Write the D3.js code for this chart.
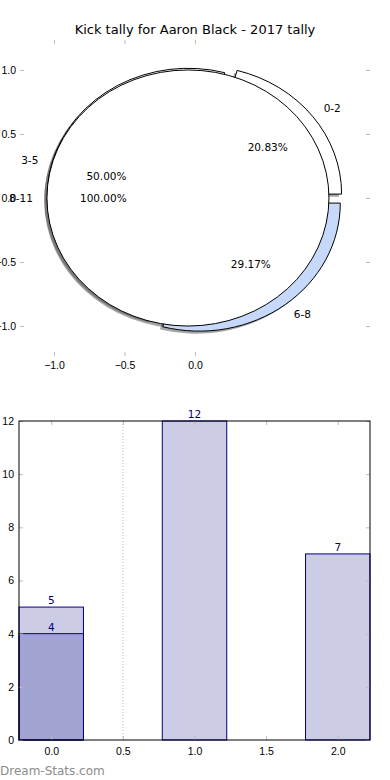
<!DOCTYPE html>
<html>
<head>
<meta charset="utf-8">
<script src="https://cdn.jsdelivr.net/npm/d3@7"></script>
<style>
  body { margin: 0; background: #fff; }
  svg { display: block; font-family: "DejaVu Sans", sans-serif; }
  .tick line { stroke: #bbb; }
  .tick text { fill: #000; font-size: 10.5px; }
  .domain { display: none; }
</style>
</head>
<body>
<svg id="chart" width="390" height="780"></svg>
<script>
// pie data
const pieLabels = ["0-2", "3-5", "6-8"];
const pieValues = [5, 12, 7];
const pieColors = ["#ffffff", "#ffffff", "#c6d9fb"];
const pie2Labels = ["8-11"];
const pie2Values = [4];
const pie2Colors = ["#ffffff"];
const pieXTicks = [-1.0, -0.5, 0.0];
const pieYTicks = [1.0, 0.5, 0.0, -0.5, -1.0];

// bar data
const barPositions = [0, 1, 2];
const barValues = [5, 12, 7];
const overPositions = [0];
const overValues = [4];
const barXTicks = [0.0, 0.5, 1.0, 1.5, 2.0];
const barYTicks = [0, 2, 4, 6, 8, 10, 12];

const EXPLODE = 0.05;
const svg = d3.select("#chart");
const fmt1 = d => d3.format(".1f")(d).replace("-", "\u2212");

// Title
svg.append("text")
    .attr("x", 195).attr("y", 34)
    .attr("text-anchor", "middle")
    .attr("font-size", "13px")
    .text("Kick tally for Aaron Black - 2017 tally");

// ---------- pie axes ----------
const pie = { left: 20, right: 370, top: 40, bottom: 356 };
const px = d3.scaleLinear().domain([-1.241, 1.241]).range([pie.left, pie.right]);
const py = d3.scaleLinear().domain([-1.234, 1.234]).range([pie.bottom, pie.top]);

const pieG = svg.append("g");
pieG.append("g").attr("transform", `translate(0,${pie.bottom})`)
    .call(d3.axisBottom(px).tickValues(pieXTicks).tickSize(-4).tickPadding(6).tickFormat(fmt1));
pieG.append("g").attr("transform", `translate(0,${pie.top})`)
    .call(d3.axisTop(px).tickValues(pieXTicks).tickSize(-4).tickFormat(""));
pieG.append("g").attr("transform", `translate(${pie.left},0)`)
    .call(d3.axisLeft(py).tickValues(pieYTicks).tickSize(-4).tickPadding(4).tickFormat(fmt1));
pieG.append("g").attr("transform", `translate(${pie.right},0)`)
    .call(d3.axisRight(py).tickValues(pieYTicks).tickSize(-4).tickFormat(""));

// unit circle drawn in data coords, stretched to the axes aspect
const kx = px(1) - px(0), ky = py(0) - py(1);
const unitG = pieG.append("g")
    .attr("transform", `translate(${px(0)},${py(0)}) scale(${kx},${ky})`);

// matplotlib style: counter-clockwise from 3 o'clock
const pieGen = d3.pie().sort(null).startAngle(Math.PI / 2).endAngle(Math.PI / 2 - 2 * Math.PI);
const arc = d3.arc().innerRadius(0).outerRadius(1);

function build(labels, values, colors) {
  return pieGen(values).map((a, i) => {
    const mid = (a.startAngle + a.endAngle) / 2;
    return { arc: a, label: labels[i], color: colors[i], mid,
             dx: Math.sin(mid) * EXPLODE, dy: -Math.cos(mid) * EXPLODE,
             pct: a.value / d3.sum(values) * 100 };
  });
}
const wedges = build(pieLabels, pieValues, pieColors)
    .concat(build(pie2Labels, pie2Values, pie2Colors));

// shadows sit below every wedge
unitG.selectAll("path.shadow").data(wedges).enter()
    .append("path")
    .attr("class", "shadow")
    .attr("transform", d => `translate(${d.dx - 0.02},${d.dy + 0.02})`)
    .attr("d", d => arc(d.arc))
    .attr("fill", "#4d4d4d")
    .attr("fill-opacity", 0.5);

unitG.selectAll("path.wedge").data(wedges).enter()
    .append("path")
    .attr("class", "wedge")
    .attr("transform", d => `translate(${d.dx},${d.dy})`)
    .attr("d", d => arc(d.arc))
    .attr("fill", d => d.color)
    .attr("stroke", "#000")
    .attr("stroke-width", 1)
    .attr("vector-effect", "non-scaling-stroke");

// labels
wedges.forEach(d => {
  const sx = Math.sin(d.mid), sy = -Math.cos(d.mid);
  const lx = d.dx + 1.1 * sx, ly = d.dy + 1.1 * sy;
  pieG.append("text")
      .attr("x", px(lx)).attr("y", py(-ly))
      .attr("dy", "0.35em")
      .attr("font-size", "10.5px")
      .attr("text-anchor", lx > 0 ? "start" : "end")
      .text(d.label);
  const tx = d.dx + 0.6 * sx, ty = d.dy + 0.6 * sy;
  pieG.append("text")
      .attr("x", px(tx)).attr("y", py(-ty))
      .attr("dy", "0.35em")
      .attr("font-size", "10.5px")
      .attr("text-anchor", "middle")
      .text(d.pct.toFixed(2) + "%");
});

// ---------- bar axes ----------
const bar = { left: 19, right: 370, top: 421, bottom: 740 };
const bx = d3.scaleLinear().domain([-0.225, 2.225]).range([bar.left, bar.right]);
const by = d3.scaleLinear().domain([0, 12]).range([bar.bottom, bar.top]);
const BW = 0.45;
const barG = svg.append("g");

// dotted line at 0.5
barG.append("line")
    .attr("x1", bx(0.5)).attr("x2", bx(0.5))
    .attr("y1", by(12)).attr("y2", by(0))
    .attr("stroke", "#bbb").attr("stroke-dasharray", "1,2");

function drawBars(positions, values) {
  barG.selectAll(null).data(positions).enter()
      .append("rect")
      .attr("x", (p) => bx(p - BW / 2))
      .attr("y", (p, i) => by(values[i]))
      .attr("width", bx(BW) - bx(0))
      .attr("height", (p, i) => by(0) - by(values[i]))
      .attr("fill", "#000080").attr("fill-opacity", 0.2)
      .attr("stroke", "#000080").attr("stroke-width", 1);
  barG.selectAll(null).data(positions).enter()
      .append("text")
      .attr("x", p => bx(p))
      .attr("y", (p, i) => by(values[i]) - 3)
      .attr("text-anchor", "middle")
      .attr("font-size", "10.5px")
      .attr("fill", "#000080")
      .text((p, i) => values[i]);
}
drawBars(barPositions, barValues);
drawBars(overPositions, overValues);

barG.append("g").attr("transform", `translate(0,${bar.bottom})`)
    .call(d3.axisBottom(bx).tickValues(barXTicks).tickSize(-4).tickPadding(8).tickFormat(fmt1));
barG.append("g").attr("transform", `translate(0,${bar.top})`)
    .call(d3.axisTop(bx).tickValues(barXTicks).tickSize(-4).tickFormat(""));
barG.append("g").attr("transform", `translate(${bar.left},0)`)
    .call(d3.axisLeft(by).tickValues(barYTicks).tickSize(-4).tickPadding(5).tickFormat(d3.format("d")));
barG.append("g").attr("transform", `translate(${bar.right},0)`)
    .call(d3.axisRight(by).tickValues(barYTicks).tickSize(-4).tickFormat(""));

// spines
barG.append("rect")
    .attr("x", bar.left).attr("y", bar.top)
    .attr("width", bar.right - bar.left).attr("height", bar.bottom - bar.top)
    .attr("fill", "none").attr("stroke", "#000").attr("stroke-width", 1);

// watermark
svg.append("text")
    .attr("x", 0).attr("y", 775)
    .attr("font-size", "12px")
    .attr("fill", "#8c8c8c")
    .text("Dream-Stats.com");
</script>
</body>
</html>
